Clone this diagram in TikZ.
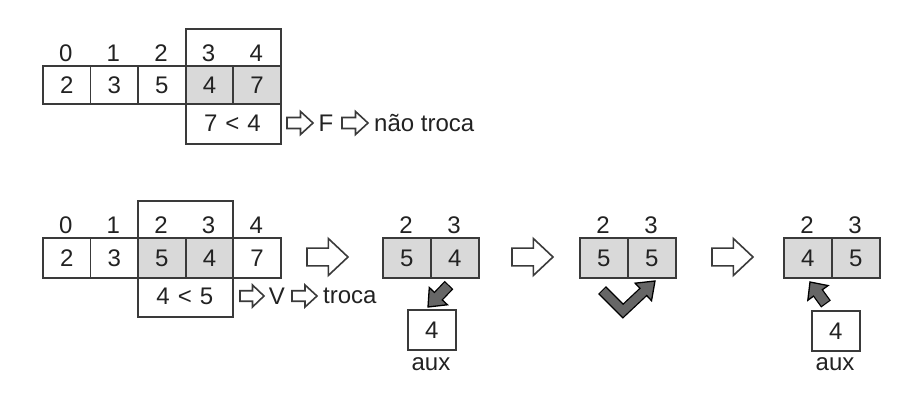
\documentclass[tikz,border=0pt]{standalone}
\usepackage{fontspec}
\setmainfont{Liberation Sans}
\usetikzlibrary{calc}
\definecolor{lc}{HTML}{3A3A3A}
\definecolor{cellgray}{HTML}{D9D9D9}
\definecolor{darkarr}{HTML}{666666}
\definecolor{txt}{HTML}{222222}
\newcommand\gapsp{\hspace{8pt}}
\begin{document}
\begin{tikzpicture}[x=1pt,y=-1pt,
  txtstyle/.style={text=txt, font=\fontsize{24}{26}\selectfont, inner sep=0pt},
  cell/.style={txtstyle, draw=lc, line width=1.8pt, minimum width=47.6pt, minimum height=#1, anchor=north west},
  cell/.default=38pt,
  gcell/.style={cell=#1, fill=cellgray},
  gcell/.default=38pt,
  window/.style={draw=lc, line width=1.8pt, inner sep=0pt, anchor=north west},
  idx/.style={txtstyle},
  hollow/.style={draw=lc, line width=1.6pt, fill=white, line join=miter},
  pics/harrow/.style args={#1/#2}{code={
    \draw[hollow] (0,{-0.24*#2}) -- ({0.52*#1},{-0.24*#2}) -- ({0.52*#1},{-0.5*#2}) -- (#1,0)
      -- ({0.52*#1},{0.5*#2}) -- ({0.52*#1},{0.24*#2}) -- (0,{0.24*#2}) -- cycle;
  }},
]
\useasboundingbox (0,0) rectangle (914,412);

% ---------- top row ----------
\node[window, minimum width=95.6pt, minimum height=115pt] (winA) at (184.8,28) {};
\node[cell]  (a0) at (42,65) {2};
\node[cell]  (a1) at (89.6,65) {3};
\node[cell]  (a2) at (137.2,65) {5};
\node[gcell] (a3) at (184.8,65) {4};
\node[gcell] (a4) at (232.4,65) {7};
\foreach \i/\x in {0/65.8,1/113.4,2/161,3/208.6,4/256.2}
  \node[idx] (ia\i) at (\x,53) {\i};
\node[txtstyle] (cmpA) at (232.4,123) {7\gapsp<\gapsp4};
\pic at (287,123) {harrow=26/23};
\node[txtstyle] (fA) at (326,123) {F};
\pic at (342,123) {harrow=26/23};
\node[txtstyle, anchor=west] (resA) at (374,123) {não troca};

% ---------- bottom row ----------
\node[window, minimum width=95.2pt, minimum height=116pt] (winB) at (137.2,200) {};
\node[cell=40pt]  (b0) at (42,237) {2};
\node[cell=40pt]  (b1) at (89.6,237) {3};
\node[gcell=40pt] (b2) at (137.2,237) {5};
\node[gcell=40pt] (b3) at (184.8,237) {4};
\node[cell=40pt]  (b4) at (232.4,237) {7};
\foreach \i/\x in {0/65.8,1/113.4,2/161,3/208.6,4/256.2}
  \node[idx] (ib\i) at (\x,225) {\i};
\node[txtstyle] (cmpB) at (184.8,296) {4\gapsp<\gapsp5};
\pic at (240,296) {harrow=24/22};
\node[txtstyle] (vB) at (277,296) {V};
\pic at (292,296) {harrow=25/22};
\node[txtstyle, anchor=west] (resB) at (323,296) {troca};

% big arrows
\pic at (307,257) {harrow=41/37};
\pic at (512,257) {harrow=41/37};
\pic at (712,257) {harrow=41/37};

% ---------- step 1 ----------
\node[gcell=40pt, minimum width=48pt] (c2) at (382,237) {5};
\node[gcell=40pt, minimum width=48pt] (c3) at (430,237) {4};
\node[idx] (ic2) at (406,225) {2};
\node[idx] (ic3) at (454,225) {3};
\node[cell=40pt, minimum width=48pt, fill=white] (auxA) at (407,309) {4};
\node[txtstyle] (auxAl) at (431,364) {aux};

% ---------- step 2 ----------
\node[gcell=40pt, minimum width=48pt] (d2) at (579,237) {5};
\node[gcell=40pt, minimum width=48pt] (d3) at (627,237) {5};
\node[idx] (id2) at (603,225) {2};
\node[idx] (id3) at (651,225) {3};

% ---------- step 3 ----------
\node[gcell=40pt, minimum width=48pt] (e2) at (783,237) {4};
\node[gcell=40pt, minimum width=48pt] (e3) at (831,237) {5};
\node[idx] (ie2) at (807,225) {2};
\node[idx] (ie3) at (855,225) {3};
\node[cell=40pt, minimum width=48pt, fill=white] (auxB) at (811,310) {4};
\node[txtstyle] (auxBl) at (835,364) {aux};

% ---------- dark arrows ----------
% arrow c3 -> auxA
\coordinate (t1) at (449,285);
\coordinate (p1) at (428,307);
\coordinate (h1) at ($(p1)!15pt!(t1)$);
\coordinate (h1a) at ($(h1)!12.5pt!90:(p1)$);
\coordinate (h1b) at ($(h1)!12.5pt!-90:(p1)$);
\coordinate (t1i) at ($(t1)!1.2pt!(p1)$);
\coordinate (h1i) at ($(h1)!1.8pt!(p1)$);
\draw[black, line width=12pt] (t1) -- (h1);
\filldraw[fill=darkarr, draw=black, line width=1.3pt, line join=miter] (p1) -- (h1a) -- (h1b) -- cycle;
\draw[darkarr, line width=9.4pt] (t1i) -- (h1i);

% V arrow d2 -> d3
\coordinate (t2) at (602,290);
\coordinate (v2) at (623,311);
\coordinate (p2) at (655,281);
\coordinate (h2) at ($(p2)!16pt!(v2)$);
\coordinate (h2a) at ($(h2)!12pt!90:(p2)$);
\coordinate (h2b) at ($(h2)!12pt!-90:(p2)$);
\coordinate (t2i) at ($(t2)!1.2pt!(v2)$);
\coordinate (h2i) at ($(h2)!1.8pt!(p2)$);
\draw[black, line width=11pt, line join=miter] (t2) -- (v2) -- (h2);
\filldraw[fill=darkarr, draw=black, line width=1.3pt, line join=miter] (p2) -- (h2a) -- (h2b) -- cycle;
\draw[darkarr, line width=8.4pt, line join=miter] (t2i) -- (v2) -- (h2i);

% arrow auxB -> e2
\coordinate (t3) at (826,304);
\coordinate (p3) at (810,282);
\coordinate (h3) at ($(p3)!13.5pt!(t3)$);
\coordinate (h3a) at ($(h3)!12.5pt!90:(p3)$);
\coordinate (h3b) at ($(h3)!12.5pt!-90:(p3)$);
\coordinate (t3i) at ($(t3)!1.2pt!(p3)$);
\coordinate (h3i) at ($(h3)!1.8pt!(p3)$);
\draw[black, line width=12pt] (t3) -- (h3);
\filldraw[fill=darkarr, draw=black, line width=1.3pt, line join=miter] (p3) -- (h3a) -- (h3b) -- cycle;
\draw[darkarr, line width=9.4pt] (t3i) -- (h3i);
\end{tikzpicture}
\end{document}
